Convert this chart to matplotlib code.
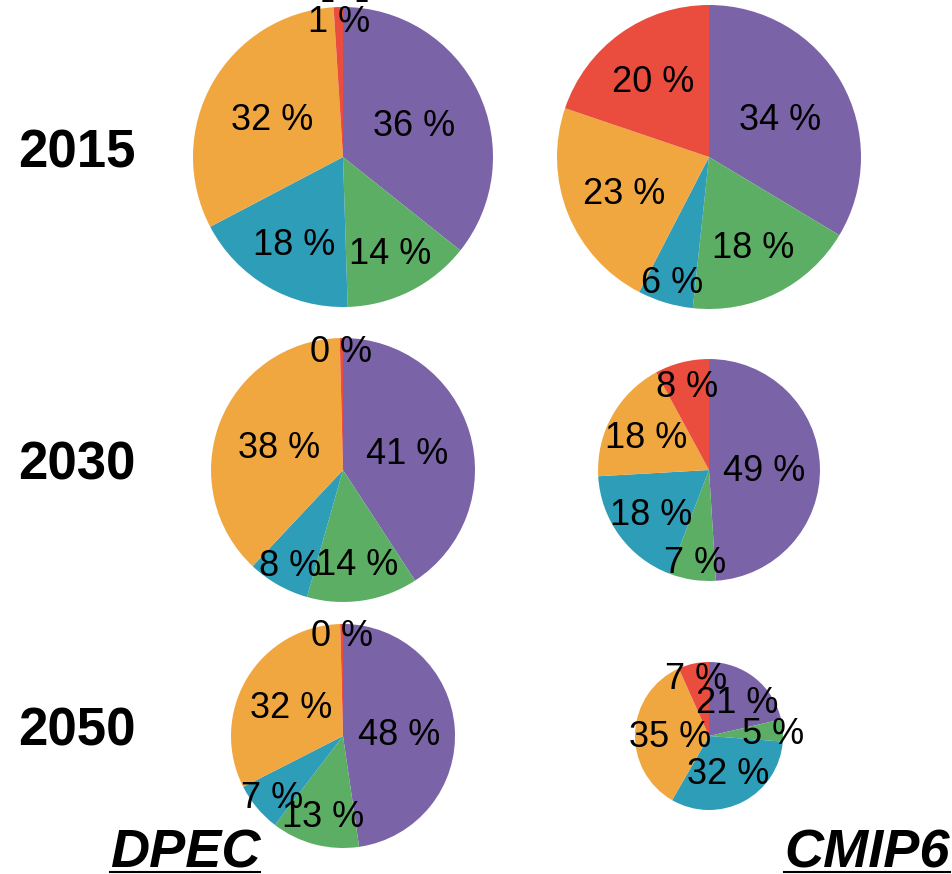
import matplotlib
matplotlib.use("Agg")  # no GUI
import matplotlib.pyplot as plt
import numpy as np

# shares per sector (%), clockwise from 12 o'clock
years = ["2015", "2030", "2050"]
sources = ["DPEC", "CMIP6"]
dpec_shares = [
    [35.7, 13.8, 17.8, 31.7, 1.0],
    [40.8, 13.6, 7.6, 37.6, 0.4],
    [47.7, 12.7, 7.1, 32.1, 0.4],
]
cmip6_shares = [
    [33.6, 18.1, 5.9, 22.6, 19.8],
    [49.0, 6.8, 18.3, 18.0, 7.9],
    [21.4, 4.8, 32.1, 35.0, 6.7],
]
# totals relative to the largest one (pie area ~ total)
dpec_total = [0.974, 0.754, 0.543]
cmip6_total = [1.0, 0.533, 0.237]

colors = ["#7A63A7", "#5BAE64", "#2E9DB8", "#F1A740", "#EA4C3E"]

W, H = 952, 874
col_x = [343, 709]
row_y = [157, 470, 736]   # pixels from top
r_max = 152
PX = 100 / 72             # pixels per point
CAP = 0.716               # digit height / em

plt.rcParams["font.family"] = ["Liberation Sans", "DejaVu Sans"]

fig = plt.figure(figsize=(W / 100, H / 100), dpi=100)
ax = fig.add_axes([0, 0, 1, 1])


def label_radius(half_deg):
    # keep the label inside the circle inscribed in the slice
    s = np.sin(np.radians(half_deg))
    return min(1 - min(1 / (1 + 1 / s), 0.5), 0.92)


fs = 26
for j, (shares, totals) in enumerate([(dpec_shares, dpec_total),
                                      (cmip6_shares, cmip6_total)]):
    for i in range(len(years)):
        cx, cy = col_x[j], H - row_y[i]
        r = r_max * np.sqrt(totals[i])
        wedges, _ = ax.pie(shares[i], colors=colors, startangle=90,
                           counterclock=False, center=(cx, cy), radius=r,
                           wedgeprops=dict(linewidth=0))
        tot = sum(shares[i])
        for w, v in zip(wedges, shares[i]):
            mid = np.radians((w.theta1 + w.theta2) / 2)
            half = (w.theta2 - w.theta1) / 2
            d = label_radius(half) * r
            ax.text(cx + d * np.cos(mid),
                    cy + d * np.sin(mid) - CAP * fs * PX / 2,
                    f"{100 * v / tot:.0f} %", fontsize=fs,
                    ha="center", va="baseline", zorder=10)

ax.set_xlim(0, W)
ax.set_ylim(0, H)
ax.set_aspect("equal")
ax.axis("off")

# row labels
for i, yr in enumerate(years):
    fig.text(18 / W, 1 - (row_y[i] + 10) / H, yr, fontsize=38,
             fontweight="bold", ha="left", va="baseline")

# column labels, underlined
col_lbl_x = [185, 867]
fig.canvas.draw()
renderer = fig.canvas.get_renderer()
for k, src in enumerate(sources):
    t = fig.text(col_lbl_x[k] / W, 1 - 868 / H, src, fontsize=39,
                 fontweight="bold", fontstyle="italic",
                 ha="center", va="baseline")
    bb = t.get_window_extent(renderer)
    fig.add_artist(plt.Line2D([bb.x0 / W, bb.x1 / W],
                              [1 - 871.5 / H, 1 - 871.5 / H],
                              color="black", linewidth=1.5,
                              transform=fig.transFigure))

# bracketed tag cut off at the top edge
fig.text(345 / W, 1 - 2 / H, "[a]", fontsize=30, fontweight="bold",
         ha="center", va="bottom")

fig.savefig("out.png", dpi=100)
